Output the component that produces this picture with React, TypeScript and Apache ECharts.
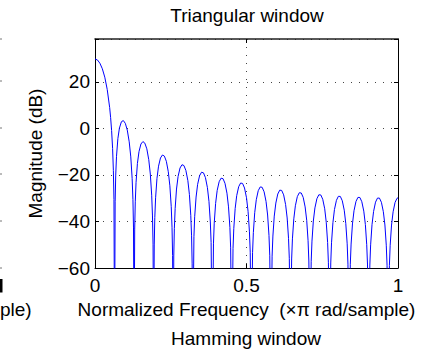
import React, { useEffect, useRef } from "react";
import * as echarts from "echarts";

// Normalized frequency (×π rad/sample), read lobe by lobe from the plot
const normFreq: number[] = [
  0, 0.0081, 0.0161, 0.0242, 0.0323, 0.0403, 0.0484, 0.0516, 0.0548, 0.0581, 0.0606, 0.0626, 0.0645,
  0.0665, 0.0684, 0.071, 0.0755, 0.0806, 0.0871, 0.0935, 0.1, 0.1065, 0.1129, 0.1181, 0.1226, 0.1252, 0.1271, 0.129,
  0.131, 0.1329, 0.1355, 0.14, 0.1452, 0.1516, 0.1581, 0.1645, 0.171, 0.1774, 0.1826, 0.1871, 0.1897, 0.1916, 0.1935,
  0.1955, 0.1974, 0.2, 0.2045, 0.2097, 0.2161, 0.2226, 0.229, 0.2355, 0.2419, 0.2471, 0.2516, 0.2542, 0.2561, 0.2581,
  0.26, 0.2619, 0.2645, 0.269, 0.2742, 0.2806, 0.2871, 0.2935, 0.3, 0.3065, 0.3116, 0.3161, 0.3187, 0.3206, 0.3226,
  0.3265, 0.329, 0.3336, 0.3387, 0.3452, 0.3516, 0.3581, 0.3645, 0.371, 0.3761, 0.3806, 0.3832, 0.3871,
  0.391, 0.3935, 0.3981, 0.4032, 0.4097, 0.4161, 0.4226, 0.429, 0.4355, 0.4406, 0.4452, 0.4477, 0.4516,
  0.4555, 0.4581, 0.4626, 0.4677, 0.4742, 0.4806, 0.4871, 0.4935, 0.5, 0.5052, 0.5097, 0.5123, 0.5161,
  0.52, 0.5226, 0.5271, 0.5323, 0.5387, 0.5452, 0.5516, 0.5581, 0.5645, 0.5697, 0.5742, 0.5768, 0.5806,
  0.5845, 0.5871, 0.5916, 0.5968, 0.6032, 0.6097, 0.6161, 0.6226, 0.629, 0.6342, 0.6387, 0.6413, 0.6452,
  0.649, 0.6516, 0.6561, 0.6613, 0.6677, 0.6742, 0.6806, 0.6871, 0.6935, 0.6987, 0.7032, 0.7058, 0.7097,
  0.7135, 0.7161, 0.7206, 0.7258, 0.7323, 0.7387, 0.7452, 0.7516, 0.7581, 0.7632, 0.7677, 0.7703, 0.7742,
  0.7781, 0.7806, 0.7852, 0.7903, 0.7968, 0.8032, 0.8097, 0.8161, 0.8226, 0.8277, 0.8323, 0.8348, 0.8387,
  0.8426, 0.8452, 0.8497, 0.8548, 0.8613, 0.8677, 0.8742, 0.8806, 0.8871, 0.8923, 0.8968, 0.8994, 0.9032,
  0.9071, 0.9097, 0.9142, 0.9194, 0.9258, 0.9323, 0.9387, 0.9452, 0.9516, 0.9568, 0.9613, 0.9639, 0.9677,
  0.9716, 0.9742, 0.9787, 0.9839, 0.9903, 0.9968, 1.0,
];

// Magnitude (dB) at those frequencies; nulls drop below the axis floor
const magnitudeDb: number[] = [
  29.83, 29.38, 28.0, 25.61, 21.99, 16.74, 8.93, 4.6, -0.93, -8.61, -18.05, -30.56, -100,
  -31.56, -20.07, -12.0, -4.38, 0.09, 2.85, 3.35, 2.16, -0.74, -5.79, -12.26, -21.56, -30.58, -42.79, -100,
  -43.28, -31.57, -23.2, -15.09, -10.0, -6.72, -5.66, -6.35, -8.79, -13.45, -19.64, -28.72, -37.64, -49.77, -100,
  -50.1, -38.3, -29.83, -21.53, -16.24, -12.73, -11.44, -11.92, -14.16, -18.63, -24.69, -33.66, -42.51, -54.6, -100,
  -54.84, -43.0, -34.47, -26.07, -20.67, -17.03, -15.62, -15.98, -18.11, -22.47, -28.45, -37.35, -46.17, -58.23, -100,
  -46.54, -37.97, -29.51, -24.04, -20.32, -18.84, -19.12, -21.17, -25.46, -31.37, -40.23, -49.03, -100,
  -49.33, -40.74, -32.24, -26.72, -22.94, -21.4, -21.63, -23.62, -27.86, -33.74, -42.56, -51.34, -100,
  -51.59, -42.98, -34.44, -28.89, -25.07, -23.48, -23.67, -25.62, -29.82, -35.67, -44.46, -53.22, -100,
  -53.42, -44.8, -36.24, -30.66, -26.79, -25.17, -25.32, -27.25, -31.41, -37.23, -46.01, -54.75, -100,
  -54.92, -46.28, -37.7, -32.1, -28.21, -26.55, -26.67, -28.57, -32.71, -38.51, -47.26, -56.0, -100,
  -56.13, -47.48, -38.89, -33.26, -29.34, -27.66, -27.76, -29.64, -33.75, -39.53, -48.27, -56.99, -100,
  -57.1, -48.44, -39.83, -34.18, -30.24, -28.54, -28.61, -30.47, -34.56, -40.32, -49.04, -57.76, -100,
  -57.84, -49.17, -40.54, -34.88, -30.92, -29.2, -29.25, -31.09, -35.16, -40.91, -49.62, -58.33, -100,
  -58.38, -49.71, -41.07, -35.39, -31.41, -29.67, -29.7, -31.52, -35.57, -41.31, -50.0, -58.7, -100,
  -58.73, -50.05, -41.4, -35.71, -31.71, -29.95, -29.96, -31.76, -35.8, -41.52, -50.2, -58.89, -100,
  -58.9, -50.22, -41.55, -35.84, -31.83, -30.04, -29.83,
];

const xTicks = [0, 0.5, 1];
const yTicks = [-60, -40, -20, 0, 20];
const yMax = 38.4;

const chartTitle = "Triangular window";
const xAxisTitle = "Normalized Frequency  (\u00d7\u03c0 rad/sample)";
const yAxisTitle = "Magnitude (dB)";
const nextTitle = "Hamming window";
const prevAxisTail = "ple)";

const FONT = "'Liberation Sans', Arial, Helvetica, sans-serif";

export default function App() {
  const ref = useRef<HTMLDivElement>(null);

  useEffect(() => {
    if (!ref.current) return;
    const chart = echarts.init(ref.current, undefined, { renderer: "svg" });
    const data = normFreq.map((f, i) => [f, magnitudeDb[i]]);
    const fmtY = (v: number) =>
      yTicks.some((t) => Math.abs(t - v) < 1e-6) ? String(v).replace("-", "\u2212") : "";
    const fmtX = (v: number) =>
      xTicks.some((t) => Math.abs(t - v) < 1e-6) ? String(v) : "";

    const leftMarks = [39, 81, 128, 174, 221, 268];

    chart.setOption({
      animation: false,
      backgroundColor: "#ffffff",
      grid: { left: 95, top: 39, width: 303, height: 229, containLabel: false },
      xAxis: [
        {
          type: "value",
          min: 0,
          max: 1,
          interval: 0.5,
          position: "bottom",
          name: xAxisTitle,
          nameLocation: "middle",
          nameGap: 31,
          nameTextStyle: { fontFamily: FONT, fontSize: 19, color: "#000" },
          axisLine: { show: true, onZero: false, lineStyle: { color: "#000", width: 1 } },
          axisTick: { show: true, inside: true, length: 4, lineStyle: { color: "#000" } },
          axisLabel: { formatter: fmtX, fontFamily: FONT, fontSize: 19, color: "#000", margin: 8 },
          splitLine: { show: true, lineStyle: { color: "#444", width: 1, type: [1, 7] } },
        },
        {
          type: "value",
          min: 0,
          max: 1,
          interval: 0.5,
          position: "top",
          axisLine: { show: true, onZero: false, lineStyle: { color: "#222", width: 1.6 } },
          axisTick: { show: true, inside: true, length: 4, lineStyle: { color: "#000" } },
          axisLabel: { show: false },
          splitLine: { show: false },
        },
      ],
      yAxis: [
        {
          type: "value",
          min: -60,
          max: yMax,
          interval: 20,
          position: "left",
          name: yAxisTitle,
          nameLocation: "middle",
          nameRotate: 90,
          nameGap: 50,
          nameTextStyle: { fontFamily: FONT, fontSize: 19, color: "#000" },
          axisLine: { show: true, onZero: false, lineStyle: { color: "#000", width: 1 } },
          axisTick: { show: true, inside: true, length: 4, lineStyle: { color: "#000" } },
          axisLabel: { formatter: fmtY, fontFamily: FONT, fontSize: 19, color: "#000", margin: 5 },
          splitLine: { show: true, lineStyle: { color: "#444", width: 1, type: [1, 7] } },
        },
        {
          type: "value",
          min: -60,
          max: yMax,
          interval: 20,
          position: "right",
          axisLine: { show: true, onZero: false, lineStyle: { color: "#000", width: 1 } },
          axisTick: { show: true, inside: true, length: 4, lineStyle: { color: "#000" } },
          axisLabel: { show: false },
          splitLine: { show: false },
        },
      ],
      series: [
        {
          type: "line",
          xAxisIndex: 0,
          yAxisIndex: 0,
          data,
          showSymbol: false,
          symbol: "none",
          clip: true,
          smooth: false,
          lineStyle: { color: "#0000ff", width: 1 },
        },
      ],
      graphic: [
        {
          type: "text",
          x: 247,
          y: 15.5,
          style: { text: chartTitle, font: `19px ${FONT}`, fill: "#000", align: "center", verticalAlign: "middle" },
        },
        {
          type: "text",
          x: 246,
          y: 338,
          style: { text: nextTitle, font: `19px ${FONT}`, fill: "#000", align: "center", verticalAlign: "middle" },
        },
        {
          type: "text",
          x: 0,
          y: 309,
          style: { text: prevAxisTail, font: `19px ${FONT}`, fill: "#000", align: "left", verticalAlign: "middle" },
        },
        // sliver of the neighbouring plot's "1" tick label
        {
          type: "rect",
          shape: { x: 0, y: 279, width: 2.5, height: 13.5 },
          style: { fill: "#000" },
        },
        ...leftMarks.map((y) => ({
          type: "line",
          shape: { x1: 0, y1: y, x2: 2, y2: y },
          style: { stroke: "#777", lineWidth: 1 },
        })),
      ],
    });
    return () => chart.dispose();
  }, []);

  return (
    <div
      ref={ref}
      style={{ position: "fixed", left: 0, top: 0, width: 445, height: 349, background: "#fff" }}
    />
  );
}
